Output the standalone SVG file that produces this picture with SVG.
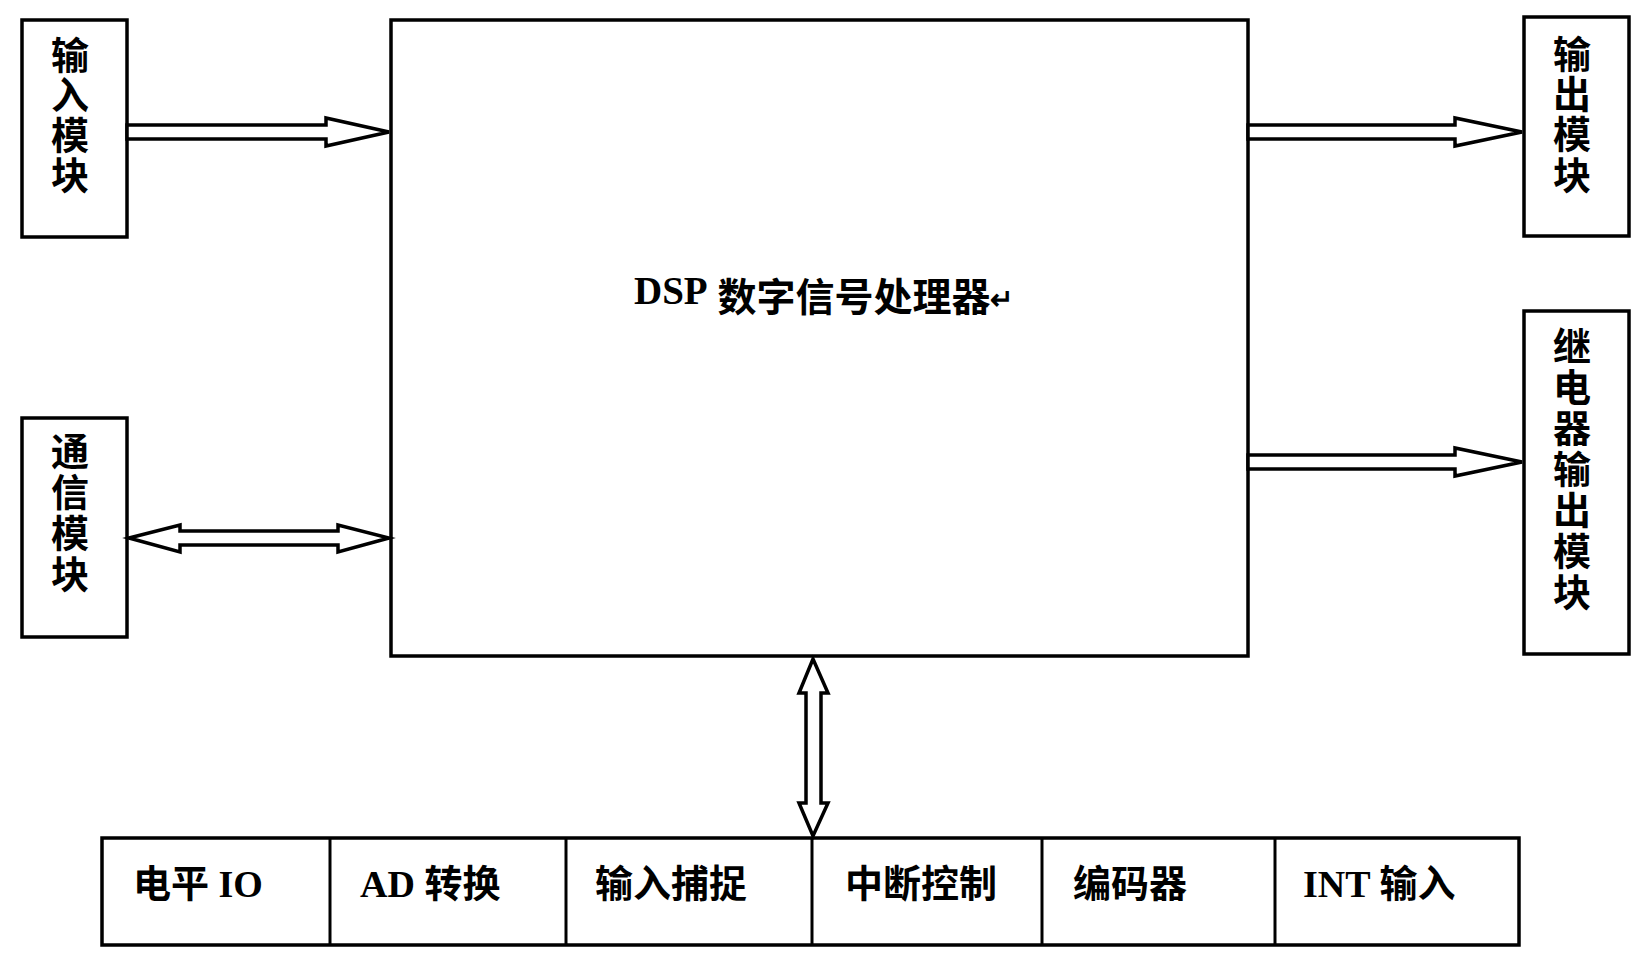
<svg xmlns="http://www.w3.org/2000/svg" width="1645" height="963" viewBox="0 0 1645 963">
<style>
.box{fill:#fff;stroke:#000;stroke-width:3.5}
.arr{fill:#fff;stroke:#000;stroke-width:3.5;stroke-linejoin:miter}
.div{stroke:#000;stroke-width:3}
text{font-family:"Liberation Serif","Noto Sans CJK SC",serif;font-weight:bold;fill:#000}
.v{font-size:38px;text-anchor:middle}
.b{font-size:38px}
.t{font-size:39px}
</style>
<rect x="0" y="0" width="1645" height="963" fill="#fff"/>
<g id="dsp">
<rect class="box" x="391" y="20" width="857" height="636"/>
<text class="t" x="634"><tspan y="304">DSP</tspan><tspan y="311"> 数字信号处理器</tspan><tspan y="309" font-size="28px">↵</tspan></text>
</g>
<g id="input-module">
<rect class="box" x="22" y="20" width="105" height="217"/>
<text class="v" x="70"><tspan x="70" y="69">输</tspan><tspan x="70" y="109">入</tspan><tspan x="70" y="149">模</tspan><tspan x="70" y="189">块</tspan></text>
</g>
<g id="comm-module">
<rect class="box" x="22" y="418" width="105" height="219"/>
<text class="v" x="70"><tspan x="70" y="465">通</tspan><tspan x="70" y="506">信</tspan><tspan x="70" y="547">模</tspan><tspan x="70" y="588">块</tspan></text>
</g>
<g id="output-module">
<rect class="box" x="1524" y="17" width="105" height="219"/>
<text class="v" x="1572"><tspan x="1572" y="68">输</tspan><tspan x="1572" y="108">出</tspan><tspan x="1572" y="148">模</tspan><tspan x="1572" y="189">块</tspan></text>
</g>
<g id="relay-module">
<rect class="box" x="1524" y="311" width="105" height="343"/>
<text class="v" x="1572"><tspan x="1572" y="360">继</tspan><tspan x="1572" y="401">电</tspan><tspan x="1572" y="442">器</tspan><tspan x="1572" y="483">输</tspan><tspan x="1572" y="524">出</tspan><tspan x="1572" y="565">模</tspan><tspan x="1572" y="606">块</tspan></text>
</g>
<g id="peripherals">
<rect class="box" x="102" y="838" width="1417" height="107"/>
<line class="div" x1="330" y1="838" x2="330" y2="945"/>
<line class="div" x1="566" y1="838" x2="566" y2="945"/>
<line class="div" x1="812" y1="838" x2="812" y2="945"/>
<line class="div" x1="1042" y1="838" x2="1042" y2="945"/>
<line class="div" x1="1275" y1="838" x2="1275" y2="945"/>
<text class="b" x="133" y="897">电平 IO</text>
<text class="b" x="360" y="897">AD 转换</text>
<text class="b" x="595" y="897">输入捕捉</text>
<text class="b" x="845" y="897">中断控制</text>
<text class="b" x="1073" y="897">编码器</text>
<text class="b" x="1303" y="897">INT 输入</text>
</g>
<g id="connectors">
<polygon class="arr" points="127,125 326,125 326,118 389,132 326,146 326,139 127,139"/>
<polygon class="arr" points="1248,125 1455,125 1455,118 1522,132 1455,146 1455,139 1248,139"/>
<polygon class="arr" points="1248,455 1455,455 1455,448 1522,462 1455,476 1455,469 1248,469"/>
<polygon class="arr" points="129,538 180,525 180,531 338,531 338,525 389,538 338,552 338,545 180,545 180,552"/>
<polygon class="arr" points="813,659 828,693 821,693 821,803 828,803 813,836 799,803 806,803 806,693 799,693"/>
</g>
</svg>
